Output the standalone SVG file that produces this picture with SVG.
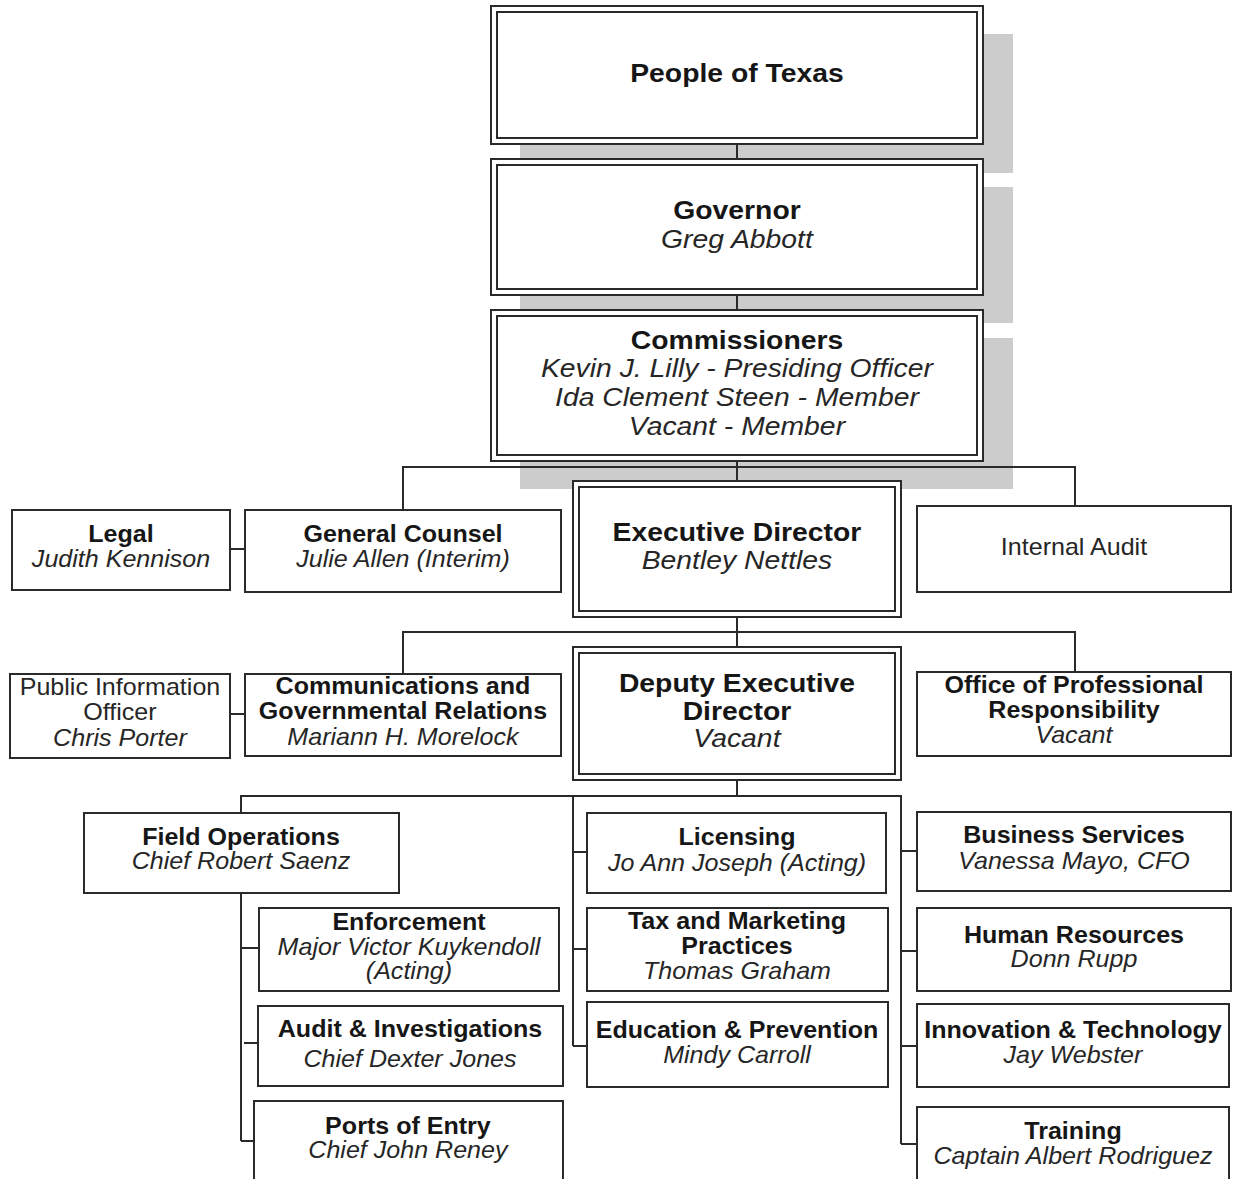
<svg xmlns="http://www.w3.org/2000/svg" width="1233" height="1179" viewBox="0 0 1233 1179">
  <style>
    .bg { fill: #ffffff; }
    .shadow { fill: #cccccc; }
    .box { fill: #ffffff; stroke: #2a2a2a; stroke-width: 2; }
    .inner { fill: none; stroke: #2a2a2a; stroke-width: 2; }
    .wire { fill: none; stroke: #2a2a2a; stroke-width: 2; }
    /* labels are drawn slightly widened about their own centre */
    text { font-family: "Liberation Sans", Arial, sans-serif; fill: #161616; text-anchor: middle;
           transform-box: fill-box; transform-origin: 50% 50%; transform: scaleX(1.09); }
    .B { font-size: 26px; font-weight: bold; }
    .I { font-size: 26px; font-style: italic; fill: #262626; }
    .b { font-size: 23px; font-weight: bold; }
    .i { font-size: 23px; font-style: italic; fill: #262626; }
    .r { font-size: 23px; fill: #262626; }
  </style>

  <rect class="bg" x="0" y="0" width="1233" height="1179"/>

  <!-- drop shadows of the top three boxes -->
  <g id="shadows">
    <rect class="shadow" x="520" y="34" width="493" height="139"/>
    <rect class="shadow" x="520" y="187" width="493" height="136"/>
    <rect class="shadow" x="520" y="338" width="493" height="151"/>
  </g>

  <!-- reporting lines -->
  <g id="connectors">
    <path class="wire" d="M737 144V159 M737 295V310 M737 461V481 M737 617V647 M737 780V796"/>
    <path class="wire" d="M403 510V467H1075V506"/>
    <path class="wire" d="M403 674V632H1075V672"/>
    <path class="wire" d="M230 549H245 M230 714H245"/>
    <path class="wire" d="M241 1141V796H901V1144"/>
    <path class="wire" d="M573 796V1046"/>
    <path class="wire" d="M241 948H259 M244 1043H258 M241 1141H254"/>
    <path class="wire" d="M573 852H587 M573 949H587 M573 1046H587"/>
    <path class="wire" d="M901 851H917 M901 951H917 M901 1046H917 M901 1144H917"/>
  </g>

  <g id="people-of-texas">
    <rect class="box" x="491" y="6" width="492" height="138"/>
    <rect class="inner" x="497" y="12" width="480" height="126"/>
    <text class="B" x="737" y="82">People of Texas</text>
  </g>

  <g id="governor">
    <rect class="box" x="491" y="159" width="492" height="136"/>
    <rect class="inner" x="497" y="165" width="480" height="124"/>
    <text class="B" x="737" y="219">Governor</text>
    <text class="I" x="737" y="248">Greg Abbott</text>
  </g>

  <g id="commissioners">
    <rect class="box" x="491" y="310" width="492" height="151"/>
    <rect class="inner" x="497" y="316" width="480" height="139"/>
    <text class="B" x="737" y="349">Commissioners</text>
    <text class="I" x="737" y="377">Kevin J. Lilly - Presiding Officer</text>
    <text class="I" x="737" y="406">Ida Clement Steen - Member</text>
    <text class="I" x="737" y="435">Vacant - Member</text>
  </g>

  <g id="executive-director">
    <rect class="box" x="573" y="481" width="328" height="136"/>
    <rect class="inner" x="579" y="487" width="316" height="124"/>
    <text class="B" x="737" y="541">Executive Director</text>
    <text class="I" x="737" y="569">Bentley Nettles</text>
  </g>

  <g id="legal">
    <rect class="box" x="12" y="510" width="218" height="80"/>
    <text class="b" x="121" y="542">Legal</text>
    <text class="i" x="121" y="567">Judith Kennison</text>
  </g>

  <g id="general-counsel">
    <rect class="box" x="245" y="510" width="316" height="82"/>
    <text class="b" x="403" y="542">General Counsel</text>
    <text class="i" x="403" y="567">Julie Allen (Interim)</text>
  </g>

  <g id="internal-audit">
    <rect class="box" x="917" y="506" width="314" height="86"/>
    <text class="r" x="1074" y="555">Internal Audit</text>
  </g>

  <g id="deputy-executive-director">
    <rect class="box" x="573" y="647" width="328" height="133"/>
    <rect class="inner" x="579" y="653" width="316" height="121"/>
    <text class="B" x="737" y="692">Deputy Executive</text>
    <text class="B" x="737" y="720">Director</text>
    <text class="I" x="737" y="747">Vacant</text>
  </g>

  <g id="public-information-officer">
    <rect class="box" x="10" y="674" width="220" height="84"/>
    <text class="r" x="120" y="695">Public Information</text>
    <text class="r" x="120" y="720">Officer</text>
    <text class="i" x="120" y="746">Chris Porter</text>
  </g>

  <g id="communications">
    <rect class="box" x="245" y="674" width="316" height="82"/>
    <text class="b" x="403" y="694">Communications and</text>
    <text class="b" x="403" y="719">Governmental Relations</text>
    <text class="i" x="403" y="745">Mariann H. Morelock</text>
  </g>

  <g id="professional-responsibility">
    <rect class="box" x="917" y="672" width="314" height="84"/>
    <text class="b" x="1074" y="693">Office of Professional</text>
    <text class="b" x="1074" y="718">Responsibility</text>
    <text class="i" x="1074" y="743">Vacant</text>
  </g>

  <g id="field-operations">
    <rect class="box" x="84" y="813" width="315" height="80"/>
    <text class="b" x="241" y="845">Field Operations</text>
    <text class="i" x="241" y="869">Chief Robert Saenz</text>
  </g>

  <g id="enforcement">
    <rect class="box" x="259" y="908" width="300" height="83"/>
    <text class="b" x="409" y="930">Enforcement</text>
    <text class="i" x="409" y="955">Major Victor Kuykendoll</text>
    <text class="i" x="409" y="979">(Acting)</text>
  </g>

  <g id="audit-investigations">
    <rect class="box" x="258" y="1006" width="305" height="80"/>
    <text class="b" x="410" y="1037">Audit &amp; Investigations</text>
    <text class="i" x="410" y="1067">Chief Dexter Jones</text>
  </g>

  <g id="ports-of-entry">
    <rect class="box" x="254" y="1101" width="309" height="90"/>
    <text class="b" x="408" y="1134">Ports of Entry</text>
    <text class="i" x="408" y="1158">Chief John Reney</text>
  </g>

  <g id="licensing">
    <rect class="box" x="587" y="813" width="299" height="80"/>
    <text class="b" x="737" y="845">Licensing</text>
    <text class="i" x="737" y="871">Jo Ann Joseph (Acting)</text>
  </g>

  <g id="tax-marketing">
    <rect class="box" x="587" y="908" width="301" height="83"/>
    <text class="b" x="737" y="929">Tax and Marketing</text>
    <text class="b" x="737" y="954">Practices</text>
    <text class="i" x="737" y="979">Thomas Graham</text>
  </g>

  <g id="education-prevention">
    <rect class="box" x="587" y="1002" width="301" height="85"/>
    <text class="b" x="737" y="1038">Education &amp; Prevention</text>
    <text class="i" x="737" y="1063">Mindy Carroll</text>
  </g>

  <g id="business-services">
    <rect class="box" x="917" y="812" width="314" height="79"/>
    <text class="b" x="1074" y="843">Business Services</text>
    <text class="i" x="1074" y="869">Vanessa Mayo, CFO</text>
  </g>

  <g id="human-resources">
    <rect class="box" x="917" y="908" width="314" height="83"/>
    <text class="b" x="1074" y="943">Human Resources</text>
    <text class="i" x="1074" y="967">Donn Rupp</text>
  </g>

  <g id="innovation-technology">
    <rect class="box" x="917" y="1004" width="312" height="83"/>
    <text class="b" x="1073" y="1038">Innovation &amp; Technology</text>
    <text class="i" x="1073" y="1063">Jay Webster</text>
  </g>

  <g id="training">
    <rect class="box" x="917" y="1107" width="312" height="90"/>
    <text class="b" x="1073" y="1139">Training</text>
    <text class="i" x="1073" y="1164">Captain Albert Rodriguez</text>
  </g>
</svg>
